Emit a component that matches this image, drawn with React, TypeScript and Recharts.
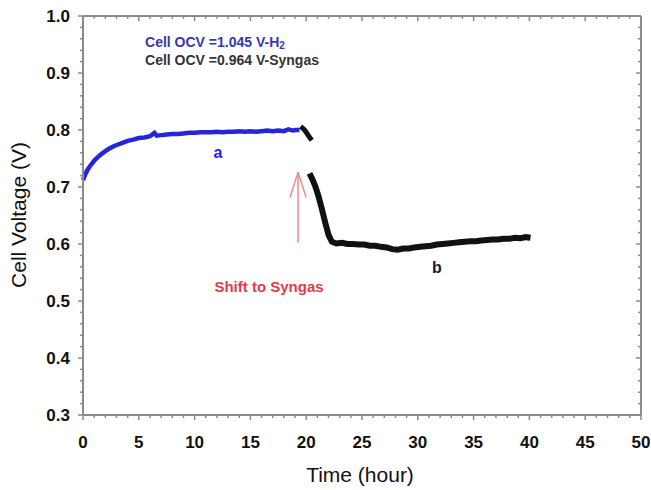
import React from "react";
import {
  LineChart,
  Line,
  XAxis,
  YAxis,
  ReferenceLine,
  ReferenceDot,
} from "recharts";

// hydrogen run (a)
const h2Time = [
  0, 0.2, 0.4, 0.6, 0.8, 1.0, 1.3, 1.6, 2.0, 2.4, 2.8, 3.2, 3.6, 4.0, 4.5, 5.0,
  5.5, 6.0, 6.4, 6.6, 7.0, 7.5, 8.0, 8.5, 9.0, 9.5, 10.0, 10.5, 11.0, 11.5, 12.0,
  12.5, 13.0, 13.5, 14.0, 14.5, 15.0, 15.5, 16.0, 16.5, 17.0, 17.5, 18.0, 18.4,
  18.8, 19.1, 19.4,
];
const h2Volt = [
  0.712, 0.722, 0.73, 0.736, 0.741, 0.746, 0.752, 0.757, 0.763, 0.768, 0.772,
  0.775, 0.778, 0.781, 0.783, 0.786, 0.787, 0.789, 0.795, 0.79, 0.791, 0.792,
  0.793, 0.793, 0.794, 0.795, 0.795, 0.796, 0.796, 0.796, 0.797, 0.796, 0.797,
  0.797, 0.798, 0.797, 0.798, 0.797, 0.798, 0.799, 0.798, 0.799, 0.798, 0.801,
  0.799, 0.8, 0.8,
];

// switch-over to syngas, before the gap
const swTime = [19.5, 19.7, 19.9, 20.1, 20.3, 20.5];
const swVolt = [0.806, 0.803, 0.799, 0.793, 0.787, 0.782];

// syngas run (b)
const sgTime = [
  20.3, 20.5, 20.8, 21.1, 21.4, 21.7, 22.0, 22.3, 22.7, 23.2, 23.7, 24.2, 24.7,
  25.2, 25.7, 26.2, 26.7, 27.2, 27.7, 28.2, 28.7, 29.2, 29.7, 30.2, 30.7, 31.2,
  31.7, 32.2, 32.7, 33.2, 33.7, 34.2, 34.7, 35.2, 35.7, 36.2, 36.7, 37.2, 37.7,
  38.2, 38.7, 39.2, 39.7, 40.1,
];
const sgVolt = [
  0.724, 0.716, 0.702, 0.684, 0.662, 0.638, 0.616, 0.604, 0.601, 0.602, 0.6,
  0.6, 0.599, 0.599, 0.597, 0.597, 0.595, 0.594, 0.591, 0.59, 0.592, 0.592,
  0.594, 0.595, 0.596, 0.597, 0.599, 0.6, 0.601, 0.602, 0.603, 0.604, 0.605,
  0.605, 0.606, 0.607, 0.608, 0.608, 0.609, 0.609, 0.611, 0.61, 0.612, 0.611,
];

const xMajorTicks = [0, 5, 10, 15, 20, 25, 30, 35, 40, 45, 50];
const yMajorTicks = [0.3, 0.4, 0.5, 0.6, 0.7, 0.8, 0.9, 1.0];

const h2Data = h2Time.map((t, i) => ({ t, v: h2Volt[i] }));
const swData = swTime.map((t, i) => ({ t, v: swVolt[i] }));
const sgData = sgTime.map((t, i) => ({ t, v: sgVolt[i] }));

const xTicks: number[] = [];
for (let i = 0; i <= 50; i++) xTicks.push(i);
const yTicks: number[] = [];
for (let i = 30; i <= 100; i += 2) yTicks.push(i / 100);

const FONT = "'Liberation Sans', Arial, sans-serif";
const AXIS = "#8a8a8a";

const isYMajor = (v: number) => yMajorTicks.some((m) => Math.abs(m - v) < 1e-6);

const XTick = (props: any) => {
  const { x, y, payload } = props;
  const major = xMajorTicks.includes(payload.value);
  return (
    <g>
      <line x1={x} x2={x} y1={y} y2={y + (major ? 5 : 3)} stroke={AXIS} strokeWidth={1.5} />
      {major && (
        <text x={x} y={y + 33} textAnchor="middle" fontSize={17} fontWeight="bold" fill="#111" fontFamily={FONT}>
          {payload.value}
        </text>
      )}
    </g>
  );
};

const YTick = (props: any) => {
  const { x, y, payload } = props;
  const major = isYMajor(payload.value);
  return (
    <g>
      <line x1={x - (major ? 5 : 3)} x2={x + 1} y1={y} y2={y} stroke={AXIS} strokeWidth={1.5} />
      {major && (
        <text x={x - 13} y={y + 6} textAnchor="end" fontSize={17} fontWeight="bold" fill="#111" fontFamily={FONT}>
          {payload.value.toFixed(1)}
        </text>
      )}
    </g>
  );
};

const note = (text: React.ReactNode, fill: string, size: number, anchor = "middle") =>
  (p: any) => (
    <text
      x={p.viewBox.x}
      y={p.viewBox.y}
      textAnchor={anchor}
      dominantBaseline="central"
      fontSize={size}
      fontWeight="bold"
      fill={fill}
      fontFamily={FONT}
    >
      {text}
    </text>
  );

export default function App() {
  return (
    <div style={{ position: "absolute", left: 0, top: 0, width: 651, height: 490, background: "#fff" }}>
      <LineChart width={651} height={490} margin={{ top: 16, right: 10, left: 23, bottom: 15 }}>
        <XAxis
          type="number"
          dataKey="t"
          domain={[0, 50]}
          ticks={xTicks}
          interval={0}
          tick={<XTick />}
          tickSize={0}
          tickMargin={0}
          tickLine={false}
          axisLine={{ stroke: AXIS, strokeWidth: 2 }}
          height={60}
          label={{
            content: () => (
              <text x={360} y={482} textAnchor="middle" fontSize={21} fill="#111" fontFamily={FONT}>
                Time (hour)
              </text>
            ),
          }}
        />
        <YAxis
          type="number"
          domain={[0.3, 1.0]}
          allowDataOverflow
          ticks={yTicks}
          interval={0}
          tick={<YTick />}
          tickSize={0}
          tickMargin={0}
          tickLine={false}
          axisLine={{ stroke: AXIS, strokeWidth: 2 }}
          width={60}
          label={{
            content: () => (
              <text
                x={18}
                y={215}
                transform="rotate(-90 18 215)"
                textAnchor="middle"
                dominantBaseline="central"
                fontSize={21}
                fill="#111"
                fontFamily={FONT}
              >
                Cell Voltage (V)
              </text>
            ),
          }}
        />
        <ReferenceLine y={1.0} stroke={AXIS} strokeWidth={2} />
        <ReferenceLine x={50} stroke={AXIS} strokeWidth={2} />
        {xTicks.map((t) => (
          <ReferenceLine
            key={"tx" + t}
            segment={[
              { x: t, y: 1.0 },
              { x: t, y: 1.0 - (xMajorTicks.includes(t) ? 0.009 : 0.005) },
            ]}
            stroke={AXIS}
            strokeWidth={1.5}
          />
        ))}
        {yTicks.map((v) => (
          <ReferenceLine
            key={"ty" + v}
            segment={[
              { x: 50, y: v },
              { x: 50 - (isYMajor(v) ? 0.45 : 0.27), y: v },
            ]}
            stroke={AXIS}
            strokeWidth={1.5}
          />
        ))}

        <Line data={h2Data} dataKey="v" stroke="#2626d9" strokeWidth={4.5} dot={false} isAnimationActive={false} />
        <Line data={swData} dataKey="v" stroke="#111" strokeWidth={5} dot={false} isAnimationActive={false} />
        <Line data={sgData} dataKey="v" stroke="#111" strokeWidth={6} dot={false} isAnimationActive={false} />

        {/* arrow marking the fuel shift */}
        <ReferenceLine segment={[{ x: 19.27, y: 0.602 }, { x: 19.27, y: 0.726 }]} stroke="#ec8a92" strokeWidth={1.5} />
        <ReferenceLine segment={[{ x: 18.55, y: 0.682 }, { x: 19.27, y: 0.726 }]} stroke="#ec8a92" strokeWidth={1.5} />
        <ReferenceLine segment={[{ x: 19.99, y: 0.682 }, { x: 19.27, y: 0.726 }]} stroke="#ec8a92" strokeWidth={1.5} />

        <ReferenceDot
          x={5.56}
          y={0.954}
          r={0}
          fill="none"
          stroke="none"
          label={{
            content: note(
              <>
                Cell OCV =1.045 V-H<tspan fontSize={10} dy={3}>2</tspan>
              </>,
              "#3838ac",
              14,
              "start"
            ),
          }}
        />
        <ReferenceDot
          x={5.56}
          y={0.923}
          r={0}
          fill="none"
          stroke="none"
          label={{ content: note("Cell OCV =0.964 V-Syngas", "#333", 14, "start") }}
        />
        <ReferenceDot x={12.1} y={0.76} r={0} fill="none" stroke="none" label={{ content: note("a", "#2222ee", 16) }} />
        <ReferenceDot x={31.7} y={0.558} r={0} fill="none" stroke="none" label={{ content: note("b", "#1a1a2e", 16) }} />
        <ReferenceDot
          x={16.67}
          y={0.526}
          r={0}
          fill="none"
          stroke="none"
          label={{ content: note("Shift to Syngas", "#e03c48", 15) }}
        />
      </LineChart>
    </div>
  );
}
